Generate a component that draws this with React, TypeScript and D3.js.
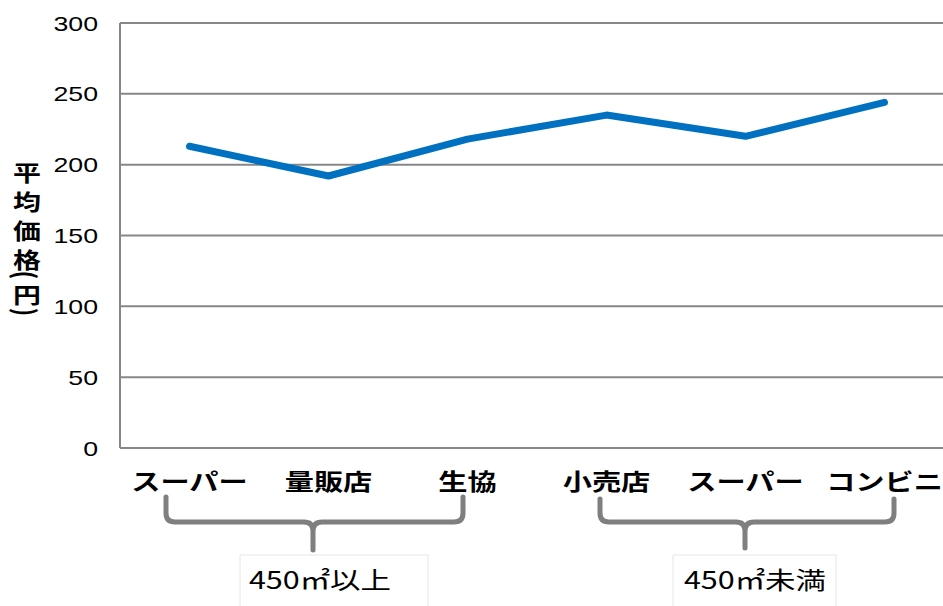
import React from "react";
import * as d3 from "d3";

// Average price by store type
const categories = ["スーパー", "量販店", "生協", "小売店", "スーパー", "コンビニ"];
const prices = [213, 192, 218, 235, 220, 244];
const yTicks = [0, 50, 100, 150, 200, 250, 300];
const groupLabels = ["450㎡以上", "450㎡未満"];

const W = 943;
const H = 606;
const SX = 1.27; // horizontal stretch of all lettering
const plot = { left: 120, top: 23, bottom: 448, right: 954 };

const JP = "'Noto Sans CJK JP', 'Noto Sans', sans-serif";
const LAT = "'Liberation Sans', Arial, sans-serif";

function StretchText({ x, y, children, size, weight = "normal", family = JP, anchor = "middle", fill = "#000" }: any) {
  return (
    <text
      transform={`translate(${x},${y}) scale(${SX},1)`}
      textAnchor={anchor}
      fontSize={size}
      fontWeight={weight}
      fontFamily={family}
      fill={fill}
    >
      {children}
    </text>
  );
}

export default function App() {
  const x = d3
    .scaleBand<number>()
    .domain(d3.range(categories.length))
    .range([plot.left, plot.right])
    .paddingInner(0)
    .paddingOuter(0);
  const cx = (i: number) => (x(i) as number) + x.bandwidth() / 2;
  const y = d3.scaleLinear().domain([0, 300]).range([plot.bottom, plot.top]);

  const line = d3
    .line<number>()
    .x((_, i) => cx(i))
    .y((d) => y(d));

  // brace under each group of categories
  const braces = [
    { l: 166, r: 463, c: 313, top: 497, mid: 522, stem: 550 },
    { l: 600, r: 894, c: 745, top: 499, mid: 522, stem: 548 },
  ];
  const bracePath = (b: any) => {
    const rr = 9;
    return [
      `M${b.l},${b.top} L${b.l},${b.mid - rr} Q${b.l},${b.mid} ${b.l + rr},${b.mid} L${b.c - rr},${b.mid} Q${b.c},${b.mid} ${b.c},${b.mid + rr} L${b.c},${b.stem}`,
      `M${b.r},${b.top} L${b.r},${b.mid - rr} Q${b.r},${b.mid} ${b.r - rr},${b.mid} L${b.c + rr},${b.mid} Q${b.c},${b.mid} ${b.c},${b.mid + rr}`,
    ].join(" ");
  };

  const boxes = [
    { l: 240, r: 428, top: 555, label: groupLabels[0], cx: 320 },
    { l: 673, r: 836, top: 555, label: groupLabels[1], cx: 755 },
  ];

  const titleChars = [
    { t: "平", y: 181 },
    { t: "均", y: 210 },
    { t: "価", y: 239 },
    { t: "格", y: 268 },
    { t: "(", y: 275, rot: true },
    { t: "円", y: 303 },
    { t: ")", y: 312, rot: true },
  ];

  return (
    <svg
      width={W}
      height={H}
      style={{ position: "absolute", left: 0, top: 0, background: "#fff" }}
    >
      <rect width={W} height={H} fill="#fff" />

      {/* horizontal gridlines */}
      {yTicks.map((t) => (
        <line
          key={t}
          x1={plot.left}
          x2={W}
          y1={y(t)}
          y2={y(t)}
          stroke="#878787"
          strokeWidth={2}
        />
      ))}
      {/* value axis */}
      <line x1={plot.left} x2={plot.left} y1={plot.top} y2={plot.bottom} stroke="#878787" strokeWidth={2} />

      {/* tick labels */}
      {yTicks.map((t) => (
        <StretchText key={t} x={98} y={y(t) + 7.5} size={21} family={LAT} anchor="end">
          {t}
        </StretchText>
      ))}

      {/* axis title, stacked vertically */}
      {titleChars.map((c, i) =>
        c.rot ? (
          <text
            key={i}
            transform={`translate(27,${c.y}) rotate(90) scale(1,${SX})`}
            textAnchor="middle"
            dominantBaseline="central"
            fontSize={22}
            fontWeight="bold"
            fontFamily={JP}
          >
            {c.t}
          </text>
        ) : (
          <StretchText key={i} x={27} y={c.y} size={22} weight="bold">
            {c.t}
          </StretchText>
        )
      )}

      {/* price line */}
      <path
        d={line(prices) as string}
        fill="none"
        stroke="#0070C0"
        strokeWidth={7}
        strokeLinecap="round"
        strokeLinejoin="round"
      />

      {/* category labels */}
      {categories.map((c, i) => (
        <StretchText key={i} x={cx(i)} y={490} size={23} weight="bold">
          {c}
        </StretchText>
      ))}

      {/* group braces */}
      {braces.map((b, i) => (
        <path
          key={i}
          d={bracePath(b)}
          fill="none"
          stroke="#7f7f7f"
          strokeWidth={5}
          strokeLinecap="round"
          strokeLinejoin="round"
        />
      ))}

      {/* group label boxes */}
      {boxes.map((b, i) => (
        <g key={i}>
          <path
            d={`M${b.l},${H} L${b.l},${b.top} L${b.r},${b.top} L${b.r},${H}`}
            fill="#fff"
            stroke="#e6e6e6"
            strokeWidth={1}
          />
          <StretchText x={b.cx} y={589} size={24}>
            {b.label}
          </StretchText>
        </g>
      ))}
    </svg>
  );
}
